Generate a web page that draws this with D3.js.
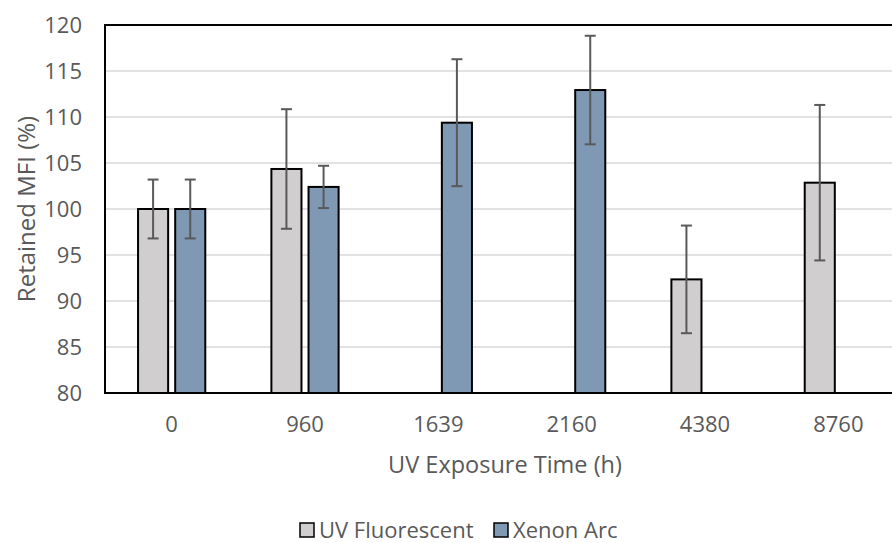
<!DOCTYPE html>
<html>
<head>
<meta charset="utf-8">
<script src="https://cdn.jsdelivr.net/npm/d3@7"></script>
<style>
  body { margin: 0; background: #fff; }
  svg { display: block; font-family: 'Open Sans', sans-serif; }
</style>
</head>
<body>
<svg id="chart" width="892" height="543"></svg>
<script>
const categories = ['0', '960', '1639', '2160', '4380', '8760'];
const seriesNames = ['UV Fluorescent', 'Xenon Arc'];
const uvValues = [100, 104.35, null, null, 92.35, 102.86];
const uvErrors = [3.2, 6.5, null, null, 5.85, 8.45];
const xenonValues = [100, 102.4, 109.38, 112.93, null, null];
const xenonErrors = [3.2, 2.3, 6.9, 5.9, null, null];
const yTicks = [80, 85, 90, 95, 100, 105, 110, 115, 120];

const colors = { 'UV Fluorescent': '#d0cece', 'Xenon Arc': '#7f98b3' };
const textColor = '#595959';

const svg = d3.select('#chart');
const margin = { left: 105, top: 25, right: 905, bottom: 393 };

const x0 = d3.scaleBand()
  .domain(categories)
  .range([margin.left, margin.right])
  .padding(0);

const x1 = d3.scaleBand()
  .domain(seriesNames)
  .range([0, x0.bandwidth()])
  .paddingInner(0.19)
  .paddingOuter(0.89);

const y = d3.scaleLinear()
  .domain([80, 120])
  .range([margin.bottom, margin.top]);

// gridlines
svg.append('g')
  .selectAll('line')
  .data(yTicks.filter(t => t > 80 && t < 120))
  .enter()
  .append('line')
  .attr('x1', margin.left)
  .attr('x2', margin.right)
  .attr('y1', d => y(d))
  .attr('y2', d => y(d))
  .attr('stroke', '#d9d9d9')
  .attr('stroke-width', 1.5);

// bottom axis line
svg.append('line')
  .attr('x1', margin.left)
  .attr('x2', margin.right)
  .attr('y1', y(80))
  .attr('y2', y(80))
  .attr('stroke', '#a6a6a6')
  .attr('stroke-width', 1.5);

// plot area frame (top & left visible)
svg.append('rect')
  .attr('x', margin.left)
  .attr('y', margin.top)
  .attr('width', margin.right - margin.left)
  .attr('height', margin.bottom - margin.top)
  .attr('fill', 'none')
  .attr('stroke', '#000')
  .attr('stroke-width', 2);

const rows = [];
categories.forEach((c, i) => {
  if (uvValues[i] != null) rows.push({ cat: c, s: 'UV Fluorescent', v: uvValues[i], e: uvErrors[i] });
  if (xenonValues[i] != null) rows.push({ cat: c, s: 'Xenon Arc', v: xenonValues[i], e: xenonErrors[i] });
});

svg.append('g')
  .selectAll('rect')
  .data(rows)
  .enter()
  .append('rect')
  .attr('x', d => x0(d.cat) + x1(d.s))
  .attr('y', d => y(d.v))
  .attr('width', x1.bandwidth())
  .attr('height', d => y(80) - y(d.v))
  .attr('fill', d => colors[d.s])
  .attr('stroke', '#000')
  .attr('stroke-width', 2);

// error bars
const err = svg.append('g')
  .attr('stroke', '#595959')
  .attr('stroke-width', 2);
rows.forEach(d => {
  const cx = x0(d.cat) + x1(d.s) + x1.bandwidth() / 2;
  const top = y(d.v + d.e), bot = y(d.v - d.e);
  err.append('line').attr('x1', cx).attr('x2', cx).attr('y1', top).attr('y2', bot);
  err.append('line').attr('x1', cx - 5.5).attr('x2', cx + 5.5).attr('y1', top).attr('y2', top);
  err.append('line').attr('x1', cx - 5.5).attr('x2', cx + 5.5).attr('y1', bot).attr('y2', bot);
});

// y tick labels
svg.append('g')
  .selectAll('text')
  .data(yTicks)
  .enter()
  .append('text')
  .attr('x', 82)
  .attr('y', d => y(d))
  .attr('dy', '0.35em')
  .attr('text-anchor', 'end')
  .attr('fill', textColor)
  .style('font-size', '22px')
  .text(d => d);

// x tick labels
svg.append('g')
  .selectAll('text')
  .data(categories)
  .enter()
  .append('text')
  .attr('x', d => x0(d) + x0.bandwidth() / 2)
  .attr('y', 424)
  .attr('dy', '0.35em')
  .attr('text-anchor', 'middle')
  .attr('fill', textColor)
  .style('font-size', '22px')
  .text(d => d);

// axis titles
svg.append('text')
  .attr('x', 505)
  .attr('y', 465)
  .attr('dy', '0.35em')
  .attr('text-anchor', 'middle')
  .attr('fill', textColor)
  .style('font-size', '23.5px')
  .text('UV Exposure Time (h)');

svg.append('text')
  .attr('transform', 'translate(27,209) rotate(-90)')
  .attr('dy', '0.35em')
  .attr('text-anchor', 'middle')
  .attr('fill', textColor)
  .style('font-size', '24px')
  .text('Retained MFI (%)');

// legend
const legendX = [300, 494];
const legend = svg.append('g');
seriesNames.forEach((s, i) => {
  legend.append('rect')
    .attr('x', legendX[i])
    .attr('y', 523)
    .attr('width', 14)
    .attr('height', 14)
    .attr('fill', colors[s])
    .attr('stroke', '#000')
    .attr('stroke-width', 1.5);
  legend.append('text')
    .attr('x', legendX[i] + 19)
    .attr('y', 530)
    .attr('dy', '0.35em')
    .attr('fill', textColor)
    .style('font-size', '22px')
    .text(s);
});
</script>
</body>
</html>
